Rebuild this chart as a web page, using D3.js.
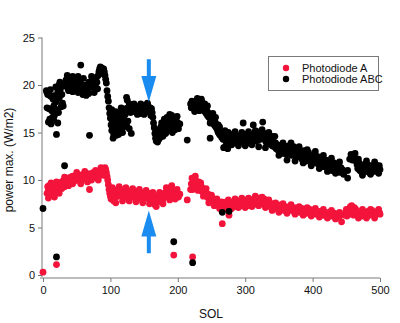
<!DOCTYPE html>
<html><head><meta charset="utf-8">
<script src="https://cdn.jsdelivr.net/npm/d3@7"></script>
<style>body{margin:0;background:#fff}svg{display:block}text{font-family:"Liberation Sans",Arial,sans-serif;fill:#111}</style>
</head><body><svg id="c" width="400" height="323"></svg>
<script>
const xTicks=[0,100,200,300,400,500];
const yTicks=[0,5,10,15,20,25];
const seriesNames=["Photodiode A","Photodiode ABC"];
const seriesColors=["#f3143c","#000000"];
const xLabel="SOL", yLabel="power max. (W/m2)";
const arrowSols=[157,157];
const arrowFrom=[22.7,2.3];
const arrowTo=[18.2,6.8];
const pointsA=[[0,0.3],[6,8.6],[7,9.3],[8,9.0],[9,9.4],[10,8.8],[11,9.2],[12,8.5],[13,9.1],[14,8.9],[15,9.4],[16,9.0],[17,8.2],[18,8.7],[19,9.3],[20,1.1],[20,9.1],[21,8.8],[22,9.5],[23,9.0],[24,9.6],[25,9.2],[26,9.7],[27,9.4],[28,9.8],[29,9.5],[30,9.9],[31,9.6],[32,9.3],[33,10.0],[34,9.7],[35,9.9],[36,10.2],[37,9.8],[38,10.1],[39,9.7],[40,10.0],[41,10.3],[42,9.9],[43,10.1],[44,10.4],[45,10.0],[46,10.2],[47,9.9],[48,10.3],[49,10.1],[50,10.4],[51,10.0],[52,10.2],[53,10.5],[54,10.1],[55,10.3],[56,10.0],[57,10.4],[58,10.2],[59,10.6],[60,10.3],[61,10.1],[62,10.5],[63,10.2],[64,10.4],[65,10.7],[66,10.3],[67,10.5],[68,10.2],[69,9.0],[70,10.6],[71,10.4],[72,10.7],[73,10.3],[74,10.5],[75,10.8],[76,10.4],[77,10.6],[78,10.3],[79,10.7],[80,10.5],[81,10.8],[82,10.4],[83,10.6],[84,10.9],[85,10.5],[86,10.8],[87,11.0],[88,10.7],[89,11.1],[90,11.2],[91,11.0],[92,11.3],[93,11.1],[94,10.8],[95,10.4],[96,10.0],[97,9.5],[98,9.0],[99,8.6],[100,8.3],[101,8.0],[102,8.7],[103,8.4],[104,8.1],[105,7.8],[106,8.5],[107,8.9],[108,8.2],[109,8.6],[110,8.8],[111,8.3],[112,8.9],[113,8.5],[114,8.7],[115,9.0],[116,8.4],[117,8.8],[118,8.6],[119,8.3],[120,8.9],[121,8.5],[122,8.7],[123,8.2],[124,8.6],[125,8.9],[126,8.4],[127,8.7],[128,8.3],[129,8.8],[130,8.5],[131,8.2],[132,8.6],[133,8.4],[134,8.9],[135,8.3],[136,8.6],[137,8.1],[138,8.5],[139,8.8],[140,8.2],[141,8.4],[142,8.7],[143,8.3],[144,8.5],[145,8.0],[146,8.4],[147,8.6],[148,8.2],[149,8.5],[150,8.3],[151,8.7],[152,8.1],[153,8.4],[154,8.6],[155,8.2],[156,8.5],[157,8.0],[158,8.3],[159,8.6],[160,8.2],[161,8.4],[162,7.9],[163,8.3],[164,7.7],[165,8.1],[166,7.4],[167,7.8],[168,8.2],[169,7.6],[170,8.0],[171,8.3],[172,7.8],[173,8.1],[174,8.4],[175,7.9],[176,8.2],[177,8.5],[178,8.0],[179,8.3],[180,8.6],[181,8.2],[182,8.5],[183,8.8],[184,8.3],[185,8.7],[186,9.0],[187,8.5],[188,8.8],[189,9.2],[190,8.6],[191,8.9],[192,8.4],[194,2.1],[195,8.7],[197,8.5],[198,8.8],[200,8.6],[203,8.5],[214,7.9],[219,9.0],[220,9.6],[221,10.2],[222,1.9],[223,9.4],[224,9.8],[225,10.1],[226,9.5],[227,9.9],[228,9.3],[229,9.7],[230,9.4],[231,9.8],[232,9.2],[233,9.5],[234,9.0],[235,9.3],[236,8.8],[237,9.1],[238,8.7],[239,9.0],[240,8.5],[241,8.8],[242,8.4],[243,8.6],[244,8.2],[245,8.5],[246,8.0],[247,8.3],[248,7.9],[249,8.2],[250,7.8],[251,8.1],[252,7.7],[253,8.0],[254,7.6],[255,7.9],[256,7.5],[257,7.8],[258,7.6],[259,7.4],[260,7.7],[261,7.5],[262,7.3],[263,7.6],[264,7.4],[265,7.7],[266,5.4],[267,7.3],[268,7.6],[269,7.2],[270,7.5],[271,7.4],[272,7.7],[273,7.3],[274,7.5],[276,6.3],[276,7.6],[277,7.2],[279,7.5],[280,7.3],[282,7.7],[283,7.4],[285,7.6],[286,7.2],[288,7.5],[289,7.8],[291,7.4],[292,7.6],[294,7.3],[295,7.7],[297,7.5],[298,7.9],[300,7.4],[301,7.6],[303,7.8],[304,7.3],[306,7.7],[307,7.5],[309,7.9],[310,7.6],[312,7.4],[313,7.8],[315,8.0],[316,7.6],[318,7.9],[319,7.5],[321,8.1],[322,7.7],[324,7.9],[325,7.5],[327,7.8],[328,8.0],[330,7.6],[331,7.4],[333,7.7],[334,7.3],[336,7.6],[337,7.2],[339,7.5],[340,7.1],[342,7.4],[343,7.0],[345,7.3],[346,7.1],[348,7.4],[349,6.9],[351,7.2],[352,7.0],[354,7.3],[355,6.9],[357,7.1],[358,6.8],[360,7.2],[361,7.0],[363,6.8],[364,7.1],[366,6.9],[367,7.2],[369,6.8],[370,7.0],[372,6.7],[373,7.1],[375,6.9],[376,6.7],[378,7.0],[379,6.8],[381,6.6],[382,6.9],[384,7.0],[385,6.7],[387,6.9],[388,6.6],[390,6.8],[391,6.5],[393,6.8],[394,6.6],[396,6.9],[397,6.5],[399,6.7],[400,6.4],[402,6.7],[403,6.5],[405,6.8],[406,6.4],[408,6.6],[409,6.3],[411,6.7],[412,6.5],[414,6.3],[415,6.6],[417,6.4],[418,6.6],[420,6.2],[421,6.5],[423,6.3],[424,6.6],[426,6.4],[427,6.2],[429,6.5],[430,6.3],[432,6.5],[433,6.1],[435,6.4],[436,6.2],[438,6.4],[439,6.1],[441,6.3],[443,5.6],[448,6.3],[449,6.6],[451,6.2],[452,6.5],[454,6.8],[455,6.4],[457,6.9],[458,6.5],[460,6.7],[461,6.3],[463,6.6],[464,6.9],[466,6.4],[467,6.7],[469,6.3],[470,6.6],[472,6.4],[473,6.2],[475,6.5],[476,6.3],[478,6.6],[479,6.2],[481,6.5],[482,6.7],[484,6.3],[485,6.6],[487,6.4],[488,6.8],[490,6.5],[491,6.3],[493,6.6],[494,6.4],[496,6.7],[497,6.5],[499,6.6],[500,6.4],
[8,8.1],[12,9.7],[16,8.4],[20,9.8],[24,8.6],[28,9.1],[32,10.3],[38,9.4],[44,9.6],[50,10.8],[56,9.6],[62,10.9],[66,9.8],[72,10.0],[78,11.0],[82,10.0],[86,11.3],[90,10.5],
[103,9.2],[108,7.6],[113,9.3],[118,7.8],[123,9.2],[128,7.8],[133,9.1],[138,7.7],[143,9.0],[148,7.6],[153,8.9],[158,7.5],[163,8.7],[168,7.2],[173,8.7],[178,7.5],[183,9.2],[188,7.9],[191,9.4],[196,8.0],[199,9.0],[201,8.2],
[222,9.0],[226,10.4],[230,8.9],[234,9.7],[238,8.3],[242,9.1],[246,7.6],[250,8.4],[254,7.3],[258,8.0],[262,7.0],
[270,7.0],[275,7.9],[280,7.0],[285,8.0],[290,7.1],[295,8.1],[300,7.1],[305,8.1],[310,7.2],[315,8.3],[320,7.3],[325,8.2],[330,7.1],[335,7.9],[340,6.8],[345,7.6],
[350,6.6],[356,7.5],[362,6.5],[368,7.4],[374,6.4],[380,7.2],[386,6.3],[392,7.1],[398,6.2],[404,7.0],[410,6.1],[416,6.9],[422,6.0],[428,6.8],[434,5.9],[440,6.6],
[450,6.9],[456,7.2],[458,7.3],[462,7.1],[468,6.0],[474,6.9],[480,6.0],[486,6.9],[492,6.0],[498,6.9]];
const pointsABC=[[0,7.0],[5,19.4],[6,19.2],[7,19.0],[8,16.1],[9,17.5],[10,18.9],[11,19.5],[12,18.8],[13,17.3],[14,16.6],[15,18.5],[16,16.3],[17,16.8],[18,18.9],[19,19.8],[20,14.8],[20,1.9],[21,17.4],[22,19.3],[23,17.1],[24,20.0],[25,20.3],[26,19.6],[27,17.7],[28,17.9],[29,18.1],[30,17.8],[32,11.5],[33,19.9],[34,20.5],[35,20.2],[36,20.0],[37,19.6],[38,19.4],[39,20.6],[40,20.1],[41,19.8],[42,20.2],[43,19.5],[44,19.3],[45,20.5],[46,20.3],[47,19.7],[48,19.9],[49,20.7],[50,20.0],[51,19.8],[52,20.9],[53,20.4],[54,19.9],[55,20.2],[56,22.1],[57,20.1],[58,19.4],[59,19.0],[60,19.6],[61,19.2],[62,19.9],[63,19.7],[64,19.5],[65,20.0],[66,19.4],[67,19.8],[68,20.3],[69,14.7],[70,19.9],[71,20.2],[72,19.8],[73,20.5],[74,20.0],[75,19.7],[76,20.4],[77,20.6],[78,20.1],[79,20.8],[80,20.3],[81,19.6],[82,21.0],[83,21.4],[84,21.7],[85,21.9],[86,21.6],[87,21.8],[88,21.5],[89,21.2],[90,21.7],[91,21.4],[92,21.0],[93,20.6],[94,20.2],[95,19.4],[96,18.8],[97,18.3],[98,17.6],[99,17.0],[100,16.5],[101,15.8],[102,15.2],[103,16.2],[104,15.6],[105,14.8],[106,15.3],[107,16.0],[108,15.0],[109,14.7],[110,16.6],[111,16.9],[112,15.5],[113,17.0],[114,16.4],[115,16.8],[116,15.9],[117,16.2],[118,17.2],[119,16.7],[120,15.6],[121,16.3],[122,15.8],[123,17.5],[124,18.7],[125,18.4],[126,17.6],[127,17.2],[128,18.0],[129,17.4],[130,17.1],[131,14.9],[132,17.3],[133,17.6],[134,17.2],[135,17.5],[136,17.8],[137,17.3],[138,17.4],[139,17.7],[140,17.2],[141,17.5],[142,17.6],[143,17.3],[144,17.8],[145,17.4],[146,17.1],[147,17.6],[148,17.5],[149,17.2],[150,17.7],[151,17.4],[152,17.3],[153,17.6],[154,17.5],[155,17.2],[156,17.8],[157,17.4],[158,17.3],[159,17.6],[160,17.2],[161,17.5],[162,17.1],[163,16.6],[164,16.0],[165,15.5],[166,14.9],[167,14.4],[168,14.1],[169,14.6],[170,15.0],[171,14.7],[172,15.3],[173,14.9],[174,15.2],[175,15.6],[176,15.1],[177,15.4],[178,15.8],[179,15.3],[180,15.6],[181,15.9],[182,15.5],[183,16.1],[184,15.8],[185,16.2],[186,15.7],[187,16.4],[188,16.0],[189,16.6],[190,16.3],[191,16.8],[192,16.2],[194,3.5],[195,15.9],[197,16.5],[198,16.2],[200,16.0],[203,15.9],[214,14.2],[219,18.0],[220,17.6],[221,18.3],[222,1.3],[223,17.7],[224,17.9],[226,18.1],[227,17.6],[228,17.8],[230,17.7],[231,18.0],[233,18.4],[234,17.9],[235,18.5],[236,18.2],[237,17.8],[238,17.4],[239,17.9],[240,17.2],[241,17.6],[242,17.0],[243,17.3],[244,16.8],[245,17.1],[246,16.6],[247,16.9],[248,14.4],[249,16.4],[250,16.6],[251,16.2],[252,16.4],[253,15.9],[254,16.2],[255,15.7],[256,16.0],[257,15.5],[258,15.6],[259,15.2],[260,15.0],[261,15.3],[262,14.8],[263,14.7],[264,15.0],[265,14.5],[266,6.6],[266,14.8],[267,14.3],[268,13.4],[269,14.6],[270,14.2],[271,13.6],[272,14.9],[273,14.4],[274,13.3],[275,14.1],[276,6.7],[276,14.5],[278,14.0],[279,14.7],[281,14.3],[282,14.8],[284,14.2],[285,14.5],[287,13.9],[288,14.6],[290,14.1],[291,14.4],[293,14.7],[294,14.0],[296,14.3],[297,16.0],[298,14.6],[300,14.2],[301,14.8],[303,14.3],[304,14.5],[306,13.9],[307,14.6],[309,14.2],[310,14.7],[312,15.8],[313,14.3],[314,14.9],[316,14.1],[317,14.5],[319,14.8],[320,14.2],[322,15.1],[323,14.4],[324,14.7],[326,16.1],[327,14.3],[328,14.9],[330,14.5],[331,14.0],[333,14.6],[334,14.2],[336,13.8],[337,14.4],[339,14.1],[340,13.6],[342,14.0],[343,13.5],[345,13.9],[346,13.3],[348,13.7],[349,13.1],[351,13.6],[352,12.9],[354,13.4],[355,12.8],[357,13.3],[358,13.0],[360,13.5],[361,12.7],[363,13.2],[364,13.6],[366,12.9],[367,13.4],[369,12.6],[370,13.1],[372,13.5],[373,12.8],[375,13.0],[376,12.4],[378,12.9],[379,13.3],[381,12.5],[382,12.8],[384,12.2],[385,12.7],[387,13.1],[388,12.4],[390,12.6],[391,12.0],[393,12.5],[394,12.9],[396,12.1],[397,12.4],[399,11.9],[400,12.3],[402,12.6],[403,11.8],[405,12.2],[406,12.5],[408,11.7],[409,12.0],[411,12.4],[412,11.6],[414,11.9],[415,12.2],[417,11.4],[418,11.8],[420,12.1],[421,11.5],[423,11.2],[424,11.7],[426,11.9],[427,11.3],[429,11.0],[430,11.5],[432,11.8],[433,11.1],[435,10.9],[436,11.4],[438,11.6],[439,11.0],[441,10.8],[442,11.3],[444,11.1],[445,10.9],[452,10.2],[452,11.0],[455,12.2],[457,12.7],[459,12.1],[461,12.5],[463,12.8],[464,12.0],[466,11.6],[467,11.2],[469,11.8],[470,11.0],[472,11.4],[473,10.8],[475,11.5],[476,11.1],[478,11.7],[479,10.9],[481,11.3],[482,11.6],[484,10.8],[485,11.2],[487,11.5],[488,11.0],[490,11.4],[491,10.9],[493,11.2],[494,11.6],[496,11.0],[497,11.3],[499,11.5],[500,11.1],
[6,17.6],[10,16.4],[12,15.9],[16,17.8],[19,18.2],[22,16.0],[24,18.6],[28,19.0],
[36,21.0],[44,20.9],[52,19.2],[60,20.7],[64,18.9],[68,19.1],[72,20.9],[76,19.2],
[102,17.4],[104,14.4],[106,16.9],[108,17.2],[112,14.8],[114,15.1],[116,17.6],[118,15.0],[120,17.0],[122,16.9],[124,15.8],[126,16.2],[128,15.4],
[135,18.0],[140,16.9],[144,17.0],[145,18.0],[150,16.9],[152,17.9],[155,18.1],[160,16.8],
[168,15.2],[170,14.0],[172,14.3],[174,14.5],[176,16.0],[178,14.6],[180,16.4],[182,14.9],[184,16.6],[186,15.2],[188,16.9],[190,15.5],[192,15.0],[196,15.3],[199,16.7],[201,15.4],
[225,17.2],[229,18.6],[232,17.3],[240,18.0],[244,17.8],[248,16.0],[252,17.0],[256,16.6],[260,15.8],[262,15.6],
[270,15.2],[275,15.0],[280,13.7],[285,15.1],[290,13.6],[295,15.0],[300,13.6],[305,15.1],[310,13.7],[315,15.2],[320,13.5],[325,15.3],[330,13.4],[335,15.0],[340,14.6],
[344,14.6],[350,12.6],[356,13.9],[362,12.1],[368,13.9],[374,12.0],[380,13.5],[386,11.8],[392,13.2],[398,11.5],[404,13.0],[410,11.2],[416,12.6],[422,10.9],[428,12.3],[434,10.7],[440,11.9],[446,10.6],
[468,12.2],[474,10.5],[480,12.0],[486,10.6],[492,11.9],[498,10.7]];

const svg=d3.select("#c");
const x=d3.scaleLinear().domain([0,500]).range([43,380]);
const y=d3.scaleLinear().domain([0,25]).range([275,37.5]);
const axisColor="#7a7a7a";

// y axis
const ya=svg.append("g").attr("transform","translate(42,0)")
  .call(d3.axisLeft(y).tickValues(yTicks).tickSize(4).tickPadding(3));
ya.select(".domain").attr("d","M0,37.5V277").attr("stroke",axisColor);
// x axis
const xa=svg.append("g").attr("transform","translate(0,278)")
  .call(d3.axisBottom(x).tickValues(xTicks).tickSize(4).tickPadding(4));
xa.select(".domain").attr("d","M40,0H380").attr("stroke",axisColor);
svg.selectAll(".tick line").attr("stroke",axisColor);
svg.selectAll(".tick text").style("font-family","'Liberation Sans',Arial,sans-serif").style("font-size","11px").attr("fill","#111");

// labels
svg.append("text").attr("x",211).attr("y",318).attr("text-anchor","middle").style("font-size","12px").text(xLabel);
svg.append("text").attr("transform","translate(13,160) rotate(-90)").attr("text-anchor","middle").style("font-size","12px").text(yLabel);

// points
const r=3.4;
svg.append("g").selectAll("circle").data(pointsA).join("circle")
  .attr("cx",d=>x(d[0])).attr("cy",d=>y(d[1])).attr("r",r).attr("fill",seriesColors[0]);
svg.append("g").selectAll("circle").data(pointsABC).join("circle")
  .attr("cx",d=>x(d[0])).attr("cy",d=>y(d[1])).attr("r",r).attr("fill",seriesColors[1]);

// arrows
const arrowColor="#1a8cf0";
arrowSols.forEach((s,i)=>{
  const cx=x(s), y0=y(arrowFrom[i]), y1=y(arrowTo[i]);
  const dir=Math.sign(y1-y0), headLen=26, hw=7.5, sw=2;
  const yb=y1-dir*headLen;
  svg.append("path").attr("fill",arrowColor)
    .attr("d",`M${cx-sw},${y0}L${cx+sw},${y0}L${cx+sw},${yb}L${cx+hw},${yb}L${cx},${y1}L${cx-hw},${yb}L${cx-sw},${yb}Z`);
});

// legend
const lg=svg.append("g");
lg.append("rect").attr("x",268.5).attr("y",56.5).attr("width",110).attr("height",34).attr("fill","#fff").attr("stroke",axisColor).attr("stroke-width",1);
seriesNames.forEach((n,i)=>{
  lg.append("circle").attr("cx",286).attr("cy",68+i*11).attr("r",3.2).attr("fill",seriesColors[i]);
  lg.append("text").attr("x",302).attr("y",72+i*11).style("font-size","11px").text(n);
});
</script></body></html>
